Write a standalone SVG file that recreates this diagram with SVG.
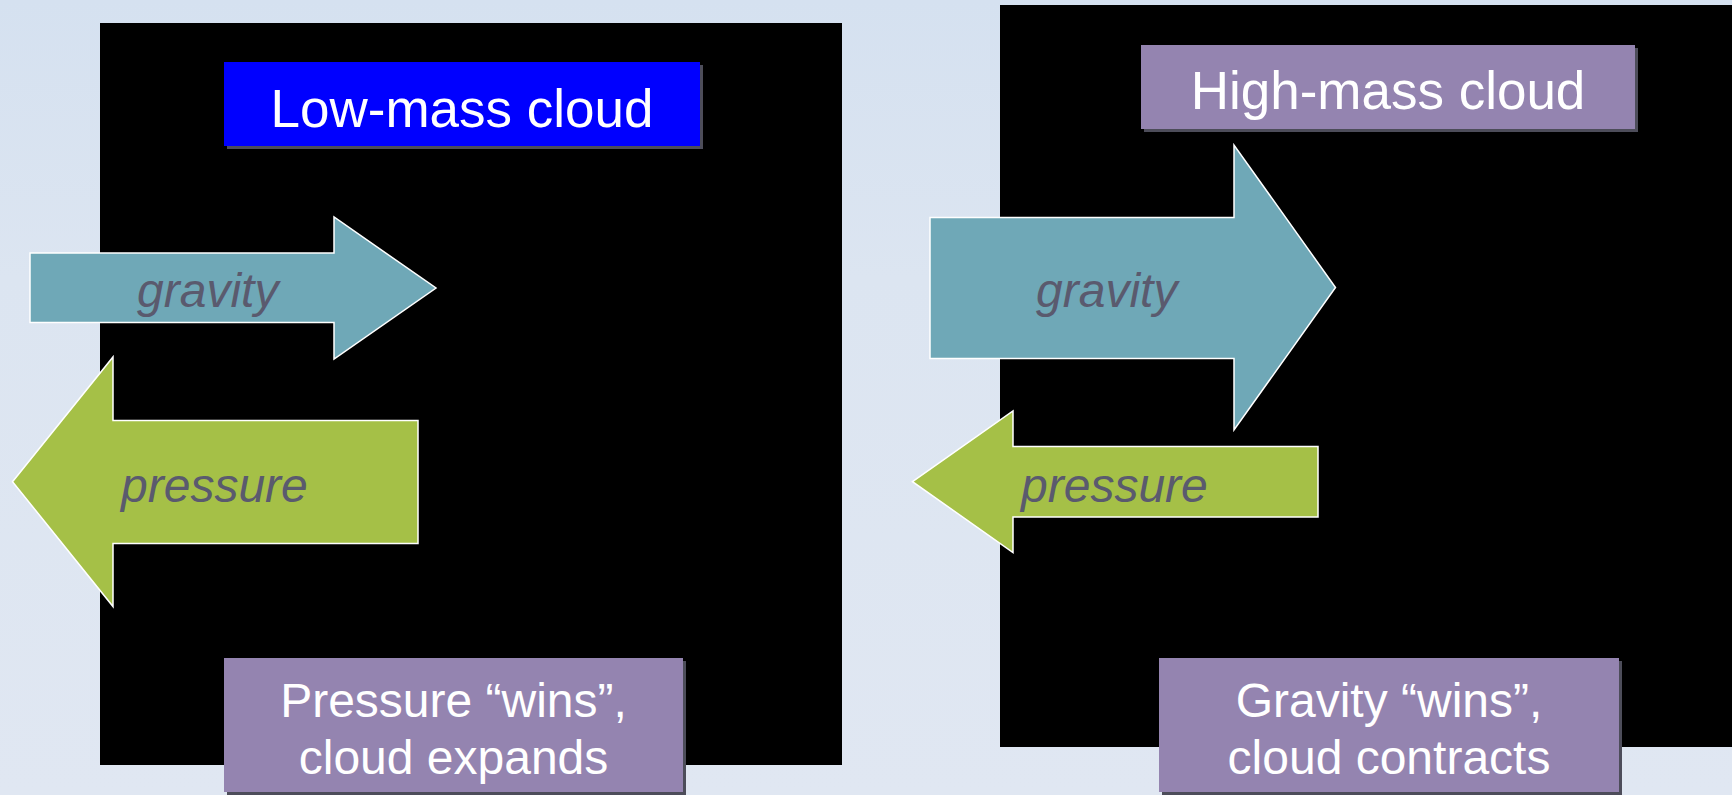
<svg xmlns="http://www.w3.org/2000/svg" width="1732" height="795" viewBox="0 0 1732 795">
<defs>
<linearGradient id="bg" x1="0" y1="0" x2="0" y2="1">
<stop offset="0" stop-color="#d5e1f0"/>
<stop offset="0.35" stop-color="#dce5f1"/>
<stop offset="1" stop-color="#e0e7f2"/>
</linearGradient>
<style>
.panel{fill:#000}
.shadow{fill:#4d4d5a}
.purple{fill:#9484b0}
.blue{fill:#0000ff}
.title{font-family:"Liberation Sans",Arial,sans-serif;font-size:53px;fill:#fff;text-anchor:middle}
.cap{font-family:"Liberation Sans",Arial,sans-serif;font-size:48px;fill:#fff;text-anchor:middle}
.grav{fill:#6fa8b7;stroke:#fff;stroke-width:1.5}
.pres{fill:#a5c047;stroke:#fff;stroke-width:1.5}
.lbl{font-family:"Liberation Sans",Arial,sans-serif;font-size:48px;font-style:italic;fill:#5a5a6e}
</style>
</defs>
<rect x="0" y="0" width="1732" height="795" fill="url(#bg)"/>

<g id="left-panel">
<rect class="panel" x="100" y="23" width="742" height="742"/>
</g>
<g id="right-panel">
<rect class="panel" x="1000" y="5" width="742" height="742"/>
</g>

<g id="low-mass-title">
<rect class="shadow" x="227" y="65" width="476" height="84"/>
<rect class="blue" x="224" y="62" width="476" height="84"/>
<text class="title" x="462" y="127">Low-mass cloud</text>
</g>

<g id="high-mass-title">
<rect class="shadow" x="1144" y="48" width="494" height="84"/>
<rect class="purple" x="1141" y="45" width="494" height="84"/>
<text class="title" x="1388" y="109">High-mass cloud</text>
</g>

<g id="connectors">
<g id="left-gravity">
<polygon class="grav" points="30,253 334,253 334,217 436,288 334,359 334,322.5 30,322.5"/>
<text class="lbl" x="137" y="307">gravity</text>
</g>
<g id="left-pressure">
<polygon class="pres" points="12.5,481.7 113,357 113,420.5 418,420.5 418,543.5 113,543.5 113,606.5"/>
<text class="lbl" x="121" y="502">pressure</text>
</g>
<g id="right-gravity">
<polygon class="grav" points="930,217.5 1234,217.5 1234,145 1335.5,287.5 1234,430 1234,358.5 930,358.5"/>
<text class="lbl" x="1036" y="307">gravity</text>
</g>
<g id="right-pressure">
<polygon class="pres" points="912.5,481.7 1013,411 1013,446.5 1318,446.5 1318,517 1013,517 1013,552.5"/>
<text class="lbl" x="1021" y="502">pressure</text>
</g>
</g>

<g id="pressure-wins">
<rect class="shadow" x="227" y="661" width="459" height="134"/>
<rect class="purple" x="224" y="658" width="459" height="134"/>
<text class="cap" x="453.5" y="717">Pressure “wins”,</text>
<text class="cap" x="453.5" y="774">cloud expands</text>
</g>

<g id="gravity-wins">
<rect class="shadow" x="1162" y="661" width="460" height="134"/>
<rect class="purple" x="1159" y="658" width="460" height="134"/>
<text class="cap" x="1389" y="717">Gravity “wins”,</text>
<text class="cap" x="1389" y="774">cloud contracts</text>
</g>
</svg>
